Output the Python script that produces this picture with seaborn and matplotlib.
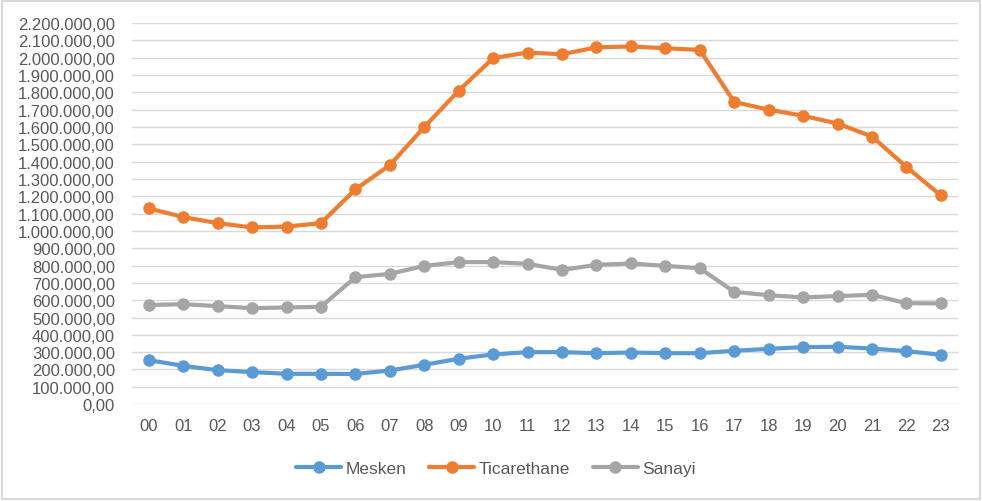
import pandas as pd
import numpy as np
import matplotlib
matplotlib.use("Agg")
import matplotlib.pyplot as plt
import seaborn as sns
from matplotlib.ticker import FuncFormatter, MultipleLocator

# Saatlik tüketim verileri
saatler = ["00", "01", "02", "03", "04", "05", "06", "07", "08", "09", "10", "11",
           "12", "13", "14", "15", "16", "17", "18", "19", "20", "21", "22", "23"]

mesken = [254000, 221000, 196000, 185000, 175000, 175000, 174000, 194000, 227000, 262000,
          287000, 300000, 300000, 294000, 298000, 294000, 294000, 308000, 319000, 329000,
          331000, 321000, 306000, 285000]

ticarethane = [1130000, 1080000, 1045000, 1020000, 1025000, 1045000, 1240000, 1380000,
               1600000, 1810000, 1998000, 2030000, 2020000, 2060000, 2065000, 2055000,
               2045000, 1745000, 1700000, 1665000, 1620000, 1545000, 1370000, 1205000]

sanayi = [572000, 577000, 566000, 554000, 558000, 562000, 733000, 752000, 798000, 820000,
          820000, 810000, 775000, 804000, 812000, 798000, 785000, 648000, 629000, 616000,
          624000, 631000, 583000, 581000]

seriler = ["Mesken", "Ticarethane", "Sanayi"]
renkler = ["#5B9BD5", "#ED7D31", "#A5A5A5"]

df = pd.DataFrame({"Saat": saatler, "Mesken": mesken,
                   "Ticarethane": ticarethane, "Sanayi": sanayi})
df_long = df.melt(id_vars="Saat", var_name="Tip", value_name="Tuketim")
df_long["x"] = df_long["Saat"].astype(int)

sns.set_style("white")
plt.rcParams["font.family"] = ["Liberation Sans", "DejaVu Sans"]

fig = plt.figure(figsize=(9.82, 5.02), dpi=100)
ax = fig.add_axes([0.134, 0.193, 0.8416, 0.759])

sns.lineplot(data=df_long, x="x", y="Tuketim", hue="Tip", hue_order=seriler,
             palette=renkler, marker="o", markersize=9, markeredgewidth=0,
             linewidth=3, ax=ax, legend=True)

ax.set_xlim(-0.5, 23.5)
ax.set_ylim(0, 2200000)
ax.yaxis.set_major_locator(MultipleLocator(100000))
ax.set_xticks(range(24))
ax.set_xticklabels(saatler)


def tr_format(v, pos):
    s = f"{v:,.2f}"
    return s.replace(",", "X").replace(".", ",").replace("X", ".")


ax.yaxis.set_major_formatter(FuncFormatter(tr_format))
ax.grid(axis="y", color="#D9D9D9", linewidth=1)
ax.set_axisbelow(True)
for sp in ax.spines.values():
    sp.set_visible(False)
ax.tick_params(axis="both", length=0, labelsize=12, colors="#595959")
ax.tick_params(axis="x", pad=10)
ax.tick_params(axis="y", pad=12)
ax.set_xlabel("")
ax.set_ylabel("")

handles, labels = ax.get_legend_handles_labels()
ax.legend_.remove()
fig.legend(handles, labels, loc="center", bbox_to_anchor=(0.505, 0.064), ncol=3,
           frameon=False, fontsize=12.5, labelcolor="#595959", handlelength=2.6,
           columnspacing=1.3, handletextpad=0.25)

# çerçeve
fig.patches.append(plt.Rectangle((0.002, 0.003), 0.996, 0.994, transform=fig.transFigure,
                                 fill=False, edgecolor="#D9D9D9", linewidth=1.5))

fig.savefig("out.png", dpi=100)
